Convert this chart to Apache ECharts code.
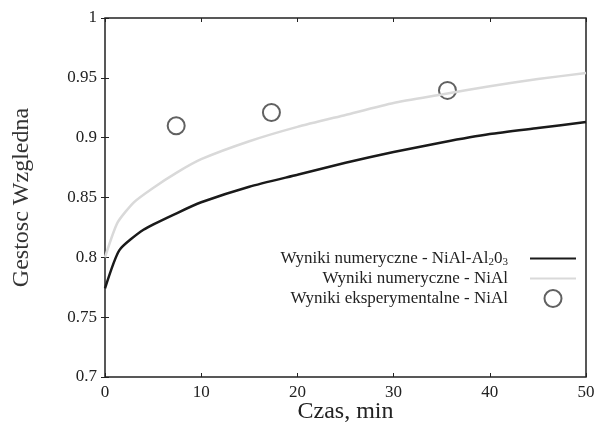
<!DOCTYPE html>
<html>
<head>
<meta charset="utf-8">
<script src="https://cdn.jsdelivr.net/npm/echarts@6/dist/echarts.min.js"></script>
<style>
  html, body { margin: 0; padding: 0; background: #fff; }
  #chart { width: 598px; height: 423px; }
</style>
</head>
<body>
<div id="chart"></div>
<script>
// dane
const czasAl2O3 = [0, 1.5, 4, 7.5, 10, 15, 20, 25, 30, 35, 40, 45, 50];
const gestoscAl2O3 = [0.774, 0.806, 0.823, 0.837, 0.846, 0.859, 0.869, 0.879, 0.888, 0.896, 0.903, 0.908, 0.913];

const czasNiAl = [0, 1.3, 3, 5, 7.5, 10, 15, 20, 25, 30, 35, 40, 45, 50];
const gestoscNiAl = [0.800, 0.829, 0.846, 0.858, 0.871, 0.882, 0.897, 0.909, 0.919, 0.929, 0.936, 0.943, 0.949, 0.954];

const czasEksp = [7.4, 17.3, 35.6];
const gestoscEksp = [0.910, 0.921, 0.9395];

const pary = (xs, ys) => xs.map((x, i) => [x, ys[i]]);

const font = 'Liberation Serif, DejaVu Serif, serif';
const bezSymbolu = { color: 'rgba(0,0,0,0)', borderColor: 'rgba(0,0,0,0)', borderWidth: 0, opacity: 0 };
const chart = echarts.init(document.getElementById('chart'));

chart.setOption({
    animation: false,
    backgroundColor: '#fff',
    grid: {
        left: 105, right: 12, top: 18, bottom: 46,
        outerBoundsMode: 'none',
        show: true, borderColor: '#222', borderWidth: 1.5
    },
    legend: {
        orient: 'vertical',
        align: 'right',
        right: 21,
        top: 250,
        padding: 0,
        itemGap: 2,
        itemWidth: 46,
        itemHeight: 17,
        textStyle: {
            fontFamily: font, fontSize: 17, color: '#222',
            rich: { sub: { fontFamily: font, fontSize: 11, color: '#222', padding: [8, 0, 0, 0] } }
        },
        formatter: name => (name === 'a' ? 'Wyniki numeryczne - NiAl-Al{sub|2}0{sub|3}'
            : name === 'b' ? 'Wyniki numeryczne - NiAl' : 'Wyniki eksperymentalne - NiAl') + '    ',
        data: [
            { name: 'a', itemStyle: bezSymbolu },
            { name: 'b', itemStyle: bezSymbolu },
            'c'
        ]
    },
    xAxis: [{
        type: 'value', min: 0, max: 50, interval: 10,
        name: 'Czas, min', nameLocation: 'middle', nameGap: 23, nameMoveOverlap: false,
        nameTextStyle: { fontFamily: font, fontSize: 24, color: '#222' },
        axisLine: { show: false },
        axisTick: { show: true, inside: true, length: 4, lineStyle: { color: '#222' } },
        axisLabel: { fontFamily: font, fontSize: 17, color: '#222', margin: 7 },
        splitLine: { show: false }
    }, {
        type: 'value', min: 0, max: 50, interval: 10, position: 'top',
        axisLine: { show: false },
        axisTick: { show: true, inside: true, length: 4, lineStyle: { color: '#222' } },
        axisLabel: { show: false },
        splitLine: { show: false }
    }],
    yAxis: [{
        type: 'value', min: 0.7, max: 1, interval: 0.05,
        name: 'Gestosc Wzgledna', nameLocation: 'middle', nameGap: 71, nameMoveOverlap: false,
        nameTextStyle: { fontFamily: font, fontSize: 24, color: '#333' },
        axisLine: { show: false },
        axisTick: { show: true, inside: true, length: 4, lineStyle: { color: '#222' } },
        axisLabel: { fontFamily: font, fontSize: 17, color: '#222', margin: 8 },
        splitLine: { show: false }
    }, {
        type: 'value', min: 0.7, max: 1, interval: 0.05, position: 'right',
        axisLine: { show: false },
        axisTick: { show: true, inside: true, length: 4, lineStyle: { color: '#222' } },
        axisLabel: { show: false },
        splitLine: { show: false }
    }],
    series: [{
        name: 'a', type: 'line', symbol: 'none', smooth: 0.2,
        lineStyle: { color: '#1a1a1a', width: 2.5 },
        itemStyle: { color: '#1a1a1a' },
        data: pary(czasAl2O3, gestoscAl2O3)
    }, {
        name: 'b', type: 'line', symbol: 'none', smooth: 0.2,
        lineStyle: { color: '#d9d9d9', width: 2.5 },
        itemStyle: { color: '#d9d9d9' },
        data: pary(czasNiAl, gestoscNiAl)
    }, {
        name: 'c', type: 'scatter', symbol: 'emptyCircle', symbolSize: 17,
        itemStyle: { color: '#3a3a3a', borderWidth: 1.3 },
        data: pary(czasEksp, gestoscEksp)
    }]
});
</script>
</body>
</html>
